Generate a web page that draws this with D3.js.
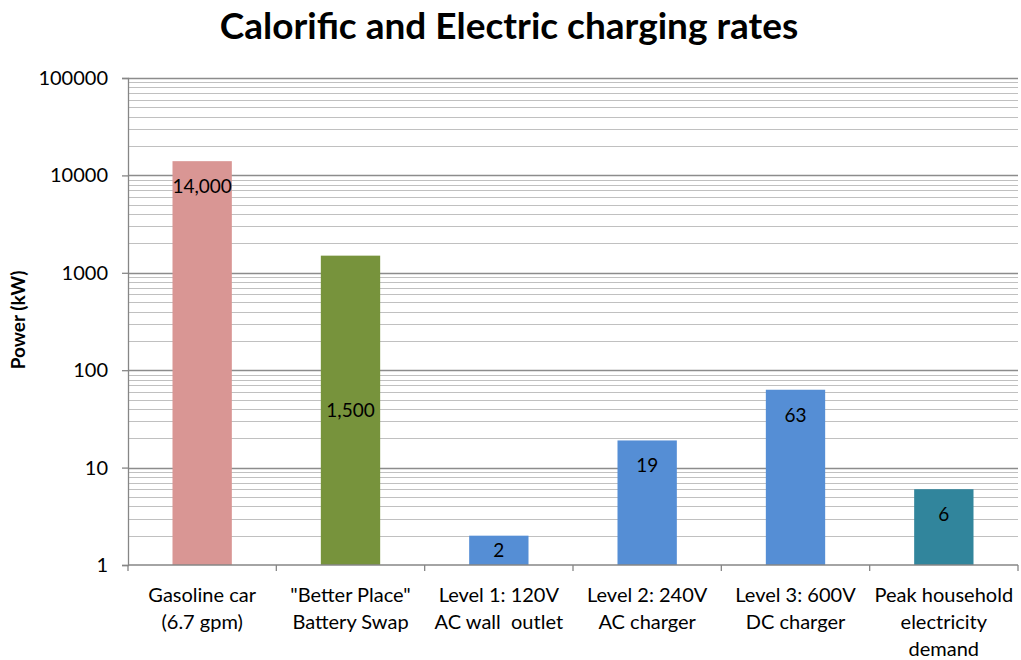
<!doctype html>
<html>
<head>
	<title>charging rates</title>
	<meta charset="utf-8">
	<script src="https://cdn.jsdelivr.net/npm/d3@7"></script>
	<style>
		body { margin: 0; background: #fff; }
		text { font-family: Lato, "Noto Sans", sans-serif; }
	</style>
</head>
<body>
	<script>
		var categories = [
			["Gasoline car", "(6.7 gpm)"],
			["\"Better Place\"", "Battery Swap"],
			["Level 1: 120V", "AC wall  outlet"],
			["Level 2: 240V", "AC charger"],
			["Level 3: 600V", "DC charger"],
			["Peak household", "electricity", "demand"]
		]
		var values = [14000, 1500, 2, 19, 63, 6]
		var valueLabels = ["14,000", "1,500", "2", "19", "63", "6"]
		// excel put some labels at the bar centre, the rest inside the end
		var labelPosition = ["end", "center", "center", "end", "end", "end"]
		var colors = ["#D99694", "#77933C", "#558ED5", "#558ED5", "#558ED5", "#31859C"]
		var yTicks = [1, 10, 100, 1000, 10000, 100000]

		var width = 1021
		var height = 660
		var plotLeft = 128, plotRight = 1018, plotTop = 78, plotBottom = 565

		var svg = d3.select("body")
					.append("svg")
					.attr("width", width)
					.attr("height", height)

		var x = d3.scaleBand()
				.domain(d3.range(values.length))
				.range([plotLeft, plotRight])
				.paddingInner(0.6)
				.paddingOuter(0.3)
		var xTick = d3.scaleLinear()
				.domain([0, values.length])
				.range([plotLeft, plotRight])
		var y = d3.scaleLog()
				.domain([1, 100000])
				.range([plotBottom, plotTop])

		// minor grid lines 2..9 in every decade
		var minor = []
		yTicks.slice(0, -1).forEach(function(d) {
			for (var k = 2; k < 10; k++) minor.push(d * k)
		})
		svg.append("g")
			.selectAll("line")
			.data(minor)
			.enter()
			.append("line")
			.attr("x1", plotLeft)
			.attr("x2", plotRight)
			.attr("y1", function(d) { return Math.round(y(d)) + 0.5 })
			.attr("y2", function(d) { return Math.round(y(d)) + 0.5 })
			.attr("stroke", "#c0c0c0")
			.attr("stroke-width", 1)

		svg.append("g")
			.selectAll("line")
			.data(yTicks.slice(1))
			.enter()
			.append("line")
			.attr("x1", plotLeft)
			.attr("x2", plotRight)
			.attr("y1", function(d) { return Math.round(y(d)) + 0.5 })
			.attr("y2", function(d) { return Math.round(y(d)) + 0.5 })
			.attr("stroke", "#8c8c8c")
			.attr("stroke-width", 1.3)

		// bars
		svg.append("g")
			.selectAll("rect")
			.data(values)
			.enter()
			.append("rect")
			.attr("x", function(d, i) { return x(i) })
			.attr("y", function(d) { return y(d) })
			.attr("width", x.bandwidth())
			.attr("height", function(d) { return y(1) - y(d) })
			.attr("fill", function(d, i) { return colors[i] })

		// value labels
		svg.append("g")
			.selectAll("text")
			.data(values)
			.enter()
			.append("text")
			.attr("x", function(d, i) { return x(i) + x.bandwidth() / 2 })
			.attr("y", function(d, i) {
				if (labelPosition[i] == "center") return (y(d) + y(1)) / 2 + 7
				return y(d) + 32
			})
			.attr("text-anchor", "middle")
			.attr("font-size", 19)
			.attr("fill", "#000")
			.text(function(d, i) { return valueLabels[i] })

		// y axis
		var yAxis = d3.axisLeft(y)
				.tickValues(yTicks)
				.tickFormat(d3.format("d"))
				.tickSize(6)
				.tickPadding(14)
		var gy = svg.append("g")
				.attr("transform", "translate(" + plotLeft + ",0)")
				.call(yAxis)
		gy.select(".domain").attr("stroke", "#868686").attr("stroke-width", 1.3)
		gy.selectAll(".tick line").attr("stroke", "#868686").attr("stroke-width", 1.3)
		gy.selectAll(".tick text")
			.attr("font-size", 20)
			.attr("font-family", "Lato, sans-serif")
			.attr("fill", "#000")

		// x axis line and ticks between categories
		svg.append("line")
			.attr("x1", plotLeft)
			.attr("x2", plotRight)
			.attr("y1", y(1))
			.attr("y2", y(1))
			.attr("stroke", "#868686")
			.attr("stroke-width", 1.3)
		svg.append("g")
			.selectAll("line")
			.data(d3.range(values.length + 1))
			.enter()
			.append("line")
			.attr("x1", function(d) { return xTick(d) })
			.attr("x2", function(d) { return xTick(d) })
			.attr("y1", y(1))
			.attr("y2", y(1) + 6)
			.attr("stroke", "#868686")
			.attr("stroke-width", 1.3)

		// category labels
		var cat = svg.append("g")
				.selectAll("text")
				.data(categories)
				.enter()
				.append("text")
				.attr("x", function(d, i) { return x(i) + x.bandwidth() / 2 })
				.attr("y", y(1) + 37)
				.attr("text-anchor", "middle")
				.attr("font-size", 20)
				.attr("fill", "#000")
		cat.selectAll("tspan")
			.data(function(d) { return d })
			.enter()
			.append("tspan")
			.attr("x", function() { return d3.select(this.parentNode).attr("x") })
			.attr("dy", function(d, i) { return i == 0 ? 0 : 27 })
			.attr("xml:space", "preserve")
			.text(function(d) { return d })

		// titles
		svg.append("text")
			.attr("x", 509)
			.attr("y", 39)
			.attr("text-anchor", "middle")
			.attr("font-size", 37)
			.attr("font-weight", "bold")
			.attr("fill", "#000")
			.text("Calorific and Electric charging rates")

		svg.append("text")
			.attr("transform", "translate(25,320) rotate(-90)")
			.attr("text-anchor", "middle")
			.attr("font-size", 19)
			.attr("font-weight", "bold")
			.attr("fill", "#000")
			.text("Power (kW)")
	</script>
</body>
</html>
